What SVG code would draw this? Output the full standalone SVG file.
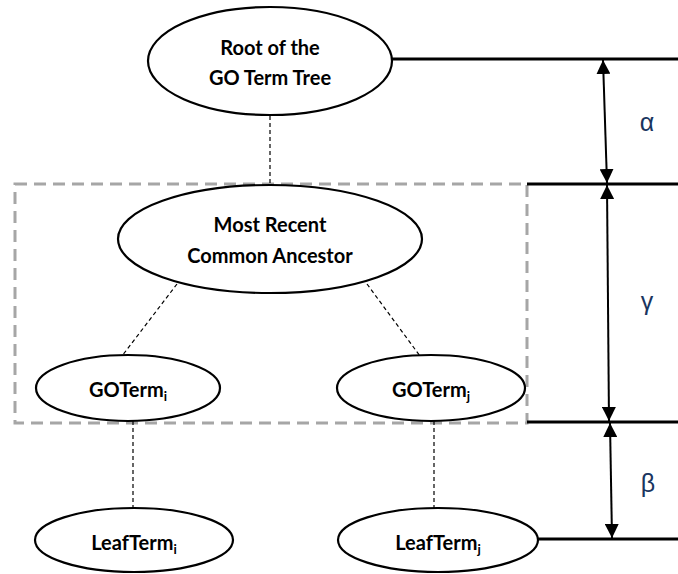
<svg xmlns="http://www.w3.org/2000/svg" width="678" height="574" viewBox="0 0 678 574">
<style>
.node ellipse{fill:#fff;stroke:#000;stroke-width:2.2}
.lbl{font-family:Lato,"Liberation Sans",sans-serif;font-weight:bold;font-size:20px;fill:#000;text-anchor:middle}
.sub{font-size:13px}
.dash{stroke:#000;stroke-width:1.2;stroke-dasharray:4 3;fill:none}
.level{stroke:#000;stroke-width:3;fill:none}
.dim{stroke:#000;stroke-width:2;fill:none;marker-start:url(#ah);marker-end:url(#ah)}
.greek{font-family:"Liberation Sans",Arial,sans-serif;font-size:25px;fill:#1a3560;text-anchor:middle}
</style>
<defs>
<marker id="ah" viewBox="0 0 10 10" refX="10" refY="5" markerWidth="7" markerHeight="7" markerUnits="strokeWidth" orient="auto-start-reverse">
<path d="M0,0 L10,5 L0,10 z" fill="#000"/>
</marker>
</defs>
<rect id="focus-box" x="15" y="184" width="512" height="239" fill="none" stroke="#a6a6a6" stroke-width="3" stroke-dasharray="12 7"/>
<g id="connectors">
<line class="dash" x1="270" y1="116" x2="270" y2="185"/>
<line class="dash" x1="177" y1="284" x2="122" y2="356"/>
<line class="dash" x1="367" y1="284" x2="420" y2="356"/>
<line class="dash" x1="133" y1="421" x2="133" y2="508"/>
<line class="dash" x1="434" y1="421" x2="434" y2="508"/>
</g>
<g id="levels">
<line class="level" x1="391" y1="59" x2="678" y2="59"/>
<line class="level" x1="527" y1="184" x2="678" y2="184"/>
<line class="level" x1="527" y1="422" x2="678" y2="422"/>
<line class="level" x1="538" y1="539" x2="678" y2="539"/>
<line class="dim" x1="603" y1="60" x2="607" y2="183"/>
<line class="dim" x1="607" y1="185" x2="609" y2="421"/>
<line class="dim" x1="610" y1="423" x2="612" y2="538"/>
<text class="greek" x="647" y="131">α</text>
<text class="greek" x="647" y="310">γ</text>
<text class="greek" x="648" y="492">β</text>
</g>
<g id="root" class="node">
<ellipse cx="270" cy="61" rx="122" ry="54"/>
<text class="lbl" x="270" y="55">Root of the</text>
<text class="lbl" x="270" y="85">GO Term Tree</text>
</g>
<g id="mrca" class="node">
<ellipse cx="270" cy="239" rx="152" ry="54"/>
<text class="lbl" x="270" y="232">Most Recent</text>
<text class="lbl" x="270" y="263">Common Ancestor</text>
</g>
<g id="goterm-i" class="node">
<ellipse cx="128" cy="388" rx="92" ry="33"/>
<text class="lbl" x="128" y="397">GOTerm<tspan class="sub" dy="4">i</tspan></text>
</g>
<g id="goterm-j" class="node">
<ellipse cx="431" cy="388" rx="94" ry="33"/>
<text class="lbl" x="431" y="397">GOTerm<tspan class="sub" dy="4">j</tspan></text>
</g>
<g id="leafterm-i" class="node">
<ellipse cx="134" cy="540" rx="99" ry="32"/>
<text class="lbl" x="134" y="550">LeafTerm<tspan class="sub" dy="4">i</tspan></text>
</g>
<g id="leafterm-j" class="node">
<ellipse cx="438" cy="540" rx="100" ry="32"/>
<text class="lbl" x="438" y="550">LeafTerm<tspan class="sub" dy="4">j</tspan></text>
</g>
</svg>
